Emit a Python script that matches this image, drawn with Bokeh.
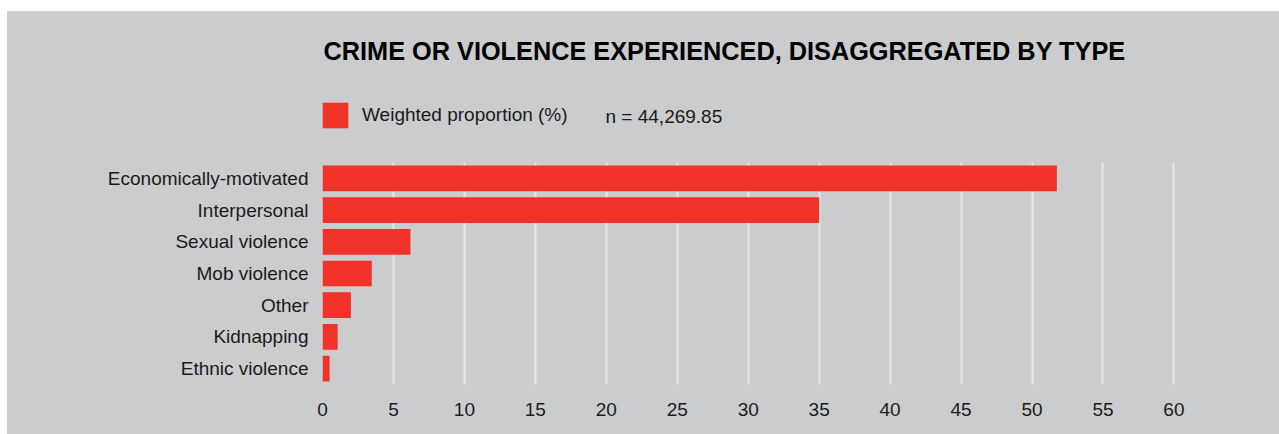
from bokeh.plotting import figure
from bokeh.layouts import column, row
from bokeh.models import (Range1d, FactorRange, FixedTicker, Legend, LegendItem,
                          Label, ColumnDataSource, Spacer)
from bokeh.embed import file_html
from bokeh.resources import INLINE

# ---- data ----
categories = ["Economically-motivated", "Interpersonal", "Sexual violence",
              "Mob violence", "Other", "Kidnapping", "Ethnic violence"]
values = [51.75, 35.0, 6.2, 3.47, 2.0, 1.07, 0.5]
x_ticks = [0, 5, 10, 15, 20, 25, 30, 35, 40, 45, 50, 55, 60]
title_text = "CRIME OR VIOLENCE EXPERIENCED, DISAGGREGATED BY TYPE"
legend_label = "Weighted proportion (%)"
n_text = "n = 44,269.85"

# ---- style ----
BG = "#cbccce"
RED = "#f03228"
TXT = "#1b1b1b"
GRID = "#e6e6e7"
FONT = "Liberation Sans"
FS = "19px"
W = 1272

src = ColumnDataSource(dict(cat=categories, val=values))

# ---- header figure (title + legend) ----
top = figure(width=W, height=151,
             x_range=Range1d(-2, -1),
             y_range=FactorRange(factors=list(reversed(categories))),
             x_axis_location=None, y_axis_location=None,
             output_backend="svg", toolbar_location=None,
             min_border=0, min_border_left=315)
top.background_fill_color = None
top.border_fill_color = None
top.outline_line_color = None
top.xgrid.grid_line_color = None
top.ygrid.grid_line_color = None

# same series; drawn out of view here, used only as the legend key
lr = top.hbar(y="cat", left=0, right="val", height=0.81, source=src,
              fill_color=RED, line_color=None)
legend = Legend(items=[LegendItem(label=legend_label, renderers=[lr], index=0)],
                location=(-3, 31), orientation="horizontal",
                glyph_width=32, glyph_height=32, label_standoff=11,
                padding=0, margin=0, border_line_color=None,
                background_fill_alpha=0,
                label_text_font=FONT, label_text_font_size=FS,
                label_text_color=TXT)
top.add_layout(legend, "center")
top.add_layout(Label(x=1, y=112, x_units="screen", y_units="screen",
                     text=title_text, text_font=FONT, text_font_style="bold",
                     text_font_size="25.3px", text_baseline="middle",
                     text_color="#000000"))
top.add_layout(Label(x=283, y=46, x_units="screen", y_units="screen",
                     text=n_text, text_font=FONT, text_font_size=FS,
                     text_baseline="middle", text_color=TXT))

# ---- chart ----
p = figure(width=W, height=272,
           y_range=FactorRange(factors=list(reversed(categories))),
           x_range=Range1d(0, 67.44),
           output_backend="svg", toolbar_location=None,
           min_border_left=315, min_border_right=0,
           min_border_top=0, min_border_bottom=50)
p.background_fill_color = None
p.border_fill_color = None
p.outline_line_color = None

r = p.hbar(y="cat", left=0, right="val", height=0.81, source=src,
           fill_color=RED, line_color=None)

p.xaxis.ticker = FixedTicker(ticks=x_ticks)
for ax in (p.xaxis, p.yaxis):
    ax.axis_line_color = None
    ax.major_tick_line_color = None
    ax.minor_tick_line_color = None
    ax.major_tick_out = 0
    ax.major_tick_in = 0
    ax.major_label_text_font = FONT
    ax.major_label_text_font_size = FS
    ax.major_label_text_color = TXT
p.yaxis.major_label_standoff = 14
p.xaxis.major_label_standoff = 18

p.ygrid.grid_line_color = None
p.xgrid.grid_line_color = GRID
p.xgrid.grid_line_width = 2

inner = column(top, p, spacing=0, styles={"background-color": BG})
layout = column(Spacer(height=11),
                row(Spacer(width=7), inner, spacing=0),
                spacing=0)

open("out.html", "w").write(file_html(layout, INLINE))
